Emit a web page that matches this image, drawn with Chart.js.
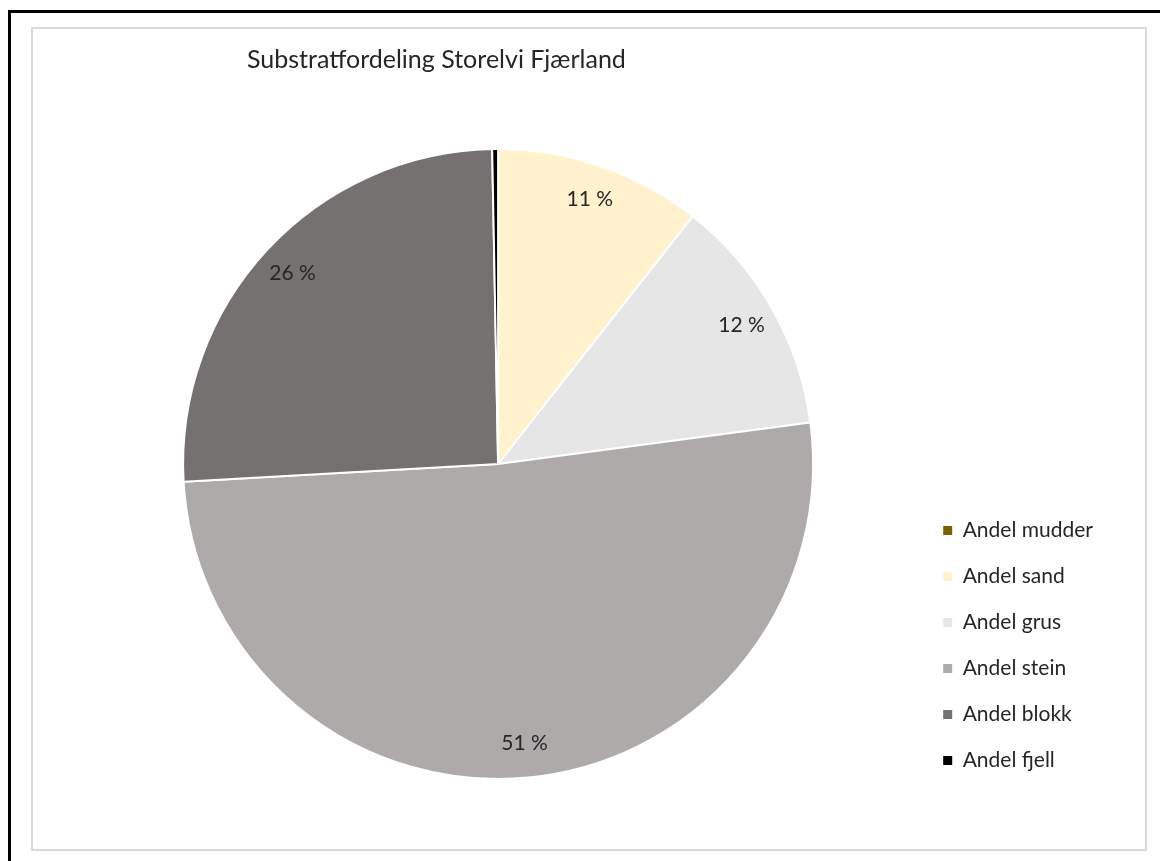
<!DOCTYPE html>
<html><head><meta charset="utf-8">
<script src="https://cdn.jsdelivr.net/npm/chart.js@4/dist/chart.umd.min.js"></script>
<style>
html,body{margin:0;padding:0;background:#fff;width:1160px;height:861px;overflow:hidden;position:relative}
#outer{position:absolute;left:8px;top:10px;width:1300px;height:1000px;border-top:3px solid #000;border-left:3px solid #000}
#frame{position:absolute;left:31px;top:27px;width:1112px;height:820px;border:2px solid #D9D9D9;background:#fff}
canvas{display:block}
</style></head><body>
<div id="outer"></div>
<div id="frame"><canvas id="c" width="1112" height="820"></canvas></div>
<script>
const chartTitle = 'Substratfordeling Storelvi Fjærland';
const categories = ['Andel mudder', 'Andel sand', 'Andel grus', 'Andel stein', 'Andel blokk', 'Andel fjell'];
const shares = [0, 10.6, 12.3, 51.2, 25.6, 0.3];
const sliceColors = ['#7F6000', '#FFF2CC', '#E7E6E6', '#AEAAAA', '#767171', '#000000'];

const FONT = 'Lato';
const TEXT = '#262626';

const titlePlace = {
  id: 'titlePlace',
  afterLayout(chart) {
    const t = chart.titleBlock;
    if (!t) return;
    const dx = 214 - t.left;
    t.left += dx; t.right += dx;
  }
};

const pctLabels = {
  id: 'pctLabels',
  afterDatasetsDraw(chart) {
    const meta = chart.getDatasetMeta(0);
    const total = shares.reduce((a, b) => a + b, 0);
    const ctx = chart.ctx;
    ctx.save();
    ctx.font = '21px ' + FONT;
    ctx.fillStyle = TEXT;
    ctx.textAlign = 'center';
    ctx.textBaseline = 'middle';
    meta.data.forEach((arc, i) => {
      const pct = Math.round(shares[i] / total * 100);
      if (pct < 1) return;
      const p = arc.getProps(['x', 'y', 'startAngle', 'endAngle', 'outerRadius'], true);
      const mid = (p.startAngle + p.endAngle) / 2;
      const r = p.outerRadius * 0.89;
      ctx.fillText(pct + ' %', p.x + Math.cos(mid) * r, p.y + Math.sin(mid) * r);
    });
    ctx.restore();
  }
};

new Chart(document.getElementById('c'), {
  type: 'pie',
  data: {
    labels: categories,
    datasets: [{
      data: shares,
      backgroundColor: sliceColors,
      borderColor: '#FFFFFF',
      borderWidth: 2
    }]
  },
  plugins: [titlePlace, pctLabels],
  options: {
    responsive: false,
    animation: false,
    devicePixelRatio: 1,
    radius: 315,
    clip: false,
    layout: { padding: { top: 0, left: 45, right: 42, bottom: 53 } },
    plugins: {
      tooltip: { enabled: false },
      title: {
        display: true,
        text: chartTitle,
        align: 'start',
        color: TEXT,
        font: { family: FONT, size: 25, weight: 'normal', lineHeight: 1.2 },
        padding: { top: 16, bottom: 57 }
      },
      legend: {
        display: true,
        position: 'right',
        align: 'end',
        labels: {
          color: TEXT,
          font: { family: FONT, size: 21 },
          boxWidth: 9,
          boxHeight: 9,
          padding: 25,
          generateLabels(chart) {
            return Chart.overrides.pie.plugins.legend.labels.generateLabels(chart)
              .map(l => Object.assign(l, { lineWidth: 0 }));
          }
        }
      }
    }
  }
});
</script>
</body></html>
